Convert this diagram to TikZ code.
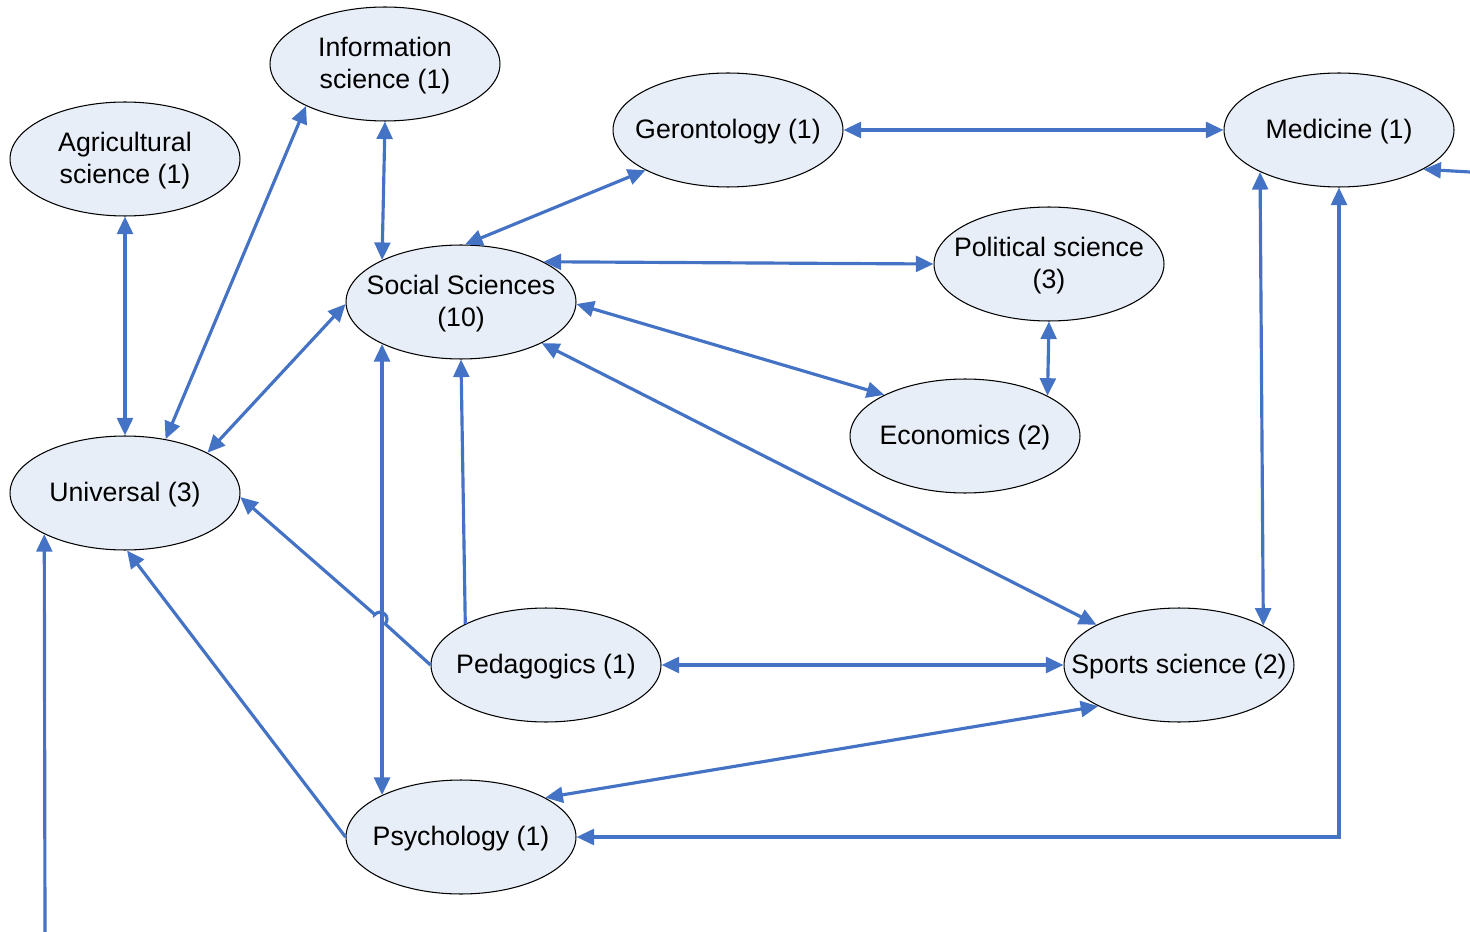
\documentclass[tikz,border=0pt]{standalone}
\usepackage{fontspec}
\setmainfont{Liberation Sans}
\usepackage{tikz}
\usetikzlibrary{arrows.meta,shapes.geometric}
\definecolor{linkblue}{HTML}{4472C4}
\definecolor{topicfill}{HTML}{E8EEF7}
\newcommand{\lbl}[1]{\makebox[0pt]{\raisebox{-0.05cm}[\height][\depth]{\begin{tabular}{@{}c@{}}#1\end{tabular}}}}
\begin{document}
\begin{tikzpicture}[x=0.02cm, y=0.02cm,
    topic/.style={ellipse, draw=black, line width=0.6pt, fill=topicfill,
        minimum width=4.6cm, minimum height=2.28cm, inner sep=0pt,
        font=\fontsize{15.2}{18.2}\selectfont},
    link/.style={draw=linkblue, line width=1.8pt,
        {Triangle[length=10pt,width=9pt]}-{Triangle[length=10pt,width=9pt]}},
    onelink/.style={draw=linkblue, line width=1.8pt, -{Triangle[length=10pt,width=9pt]}}]
    \useasboundingbox (0,0) rectangle (1470,-932);
    % Areas
    \node[topic] (info) at (385,-64) {\lbl{Information\\science (1)}};
    \node[topic] (agri) at (125,-159) {\lbl{Agricultural\\science (1)}};
    \node[topic] (geront) at (728,-130) {\lbl{Gerontology (1)}};
    \node[topic] (medic) at (1339,-130) {\lbl{Medicine (1)}};
    \node[topic] (polit) at (1049,-264) {\lbl{Political science\\(3)}};
    \node[topic] (social) at (461,-302) {\lbl{Social Sciences\\(10)}};
    \node[topic] (econ) at (965,-436) {\lbl{Economics (2)}};
    \node[topic] (univ) at (125,-493) {\lbl{Universal (3)}};
    \node[topic] (pedag) at (546,-665) {\lbl{Pedagogics (1)}};
    \node[topic] (sports) at (1179,-665) {\lbl{Sports science (2)}};
    \node[topic] (psych) at (461,-837) {\lbl{Psychology (1)}};
    \coordinate (rightend) at (1470,-172);
    \coordinate (bottomend) at (45,-932);
    \coordinate (hopin) at (385.2,-623.9);
    \coordinate (hopout) at (374.8,-614.5);
    % Links
    \draw[link] (agri.south) -- (univ.north);
    \draw[link] (univ.53) -- (info.208);
    \draw[link] (info.south) -- (social.152.6);
    \draw[link] (univ.26.8) -- (social.181.5);
    \draw[link] (social.86) -- (geront.206.8);
    \draw[link] (geront.east) -- (medic.west);
    \draw[link] (social.26) -- (polit.west);
    \draw[link] (social.-1.5) -- (econ.153.4);
    \draw[link] (polit.south) -- (econ.26.6);
    \draw[link] (social.-27) -- (sports.154);
    \draw[link] (medic.208) -- (sports.25.7);
    \draw[link] (social.208) -- (psych.152.6);
    \draw[link] (pedag.east) -- (sports.west);
    \draw[link] (sports.207) -- (psych.25.5);
    \draw[link] (medic.south) |- (psych.east);
    \draw[onelink] (pedag.153) -- (social.south);
    \draw[onelink] (pedag.west) -- (hopin) arc[start angle=-42, end angle=138, radius=7] -- (hopout) -- (univ.-2.4);
    \draw[onelink] (psych.west) -- (univ.-88);
    \draw[onelink] (rightend) -- (medic.-25.7);
    \draw[onelink] (bottomend) -- (univ.207.1);
\end{tikzpicture}
\end{document}
